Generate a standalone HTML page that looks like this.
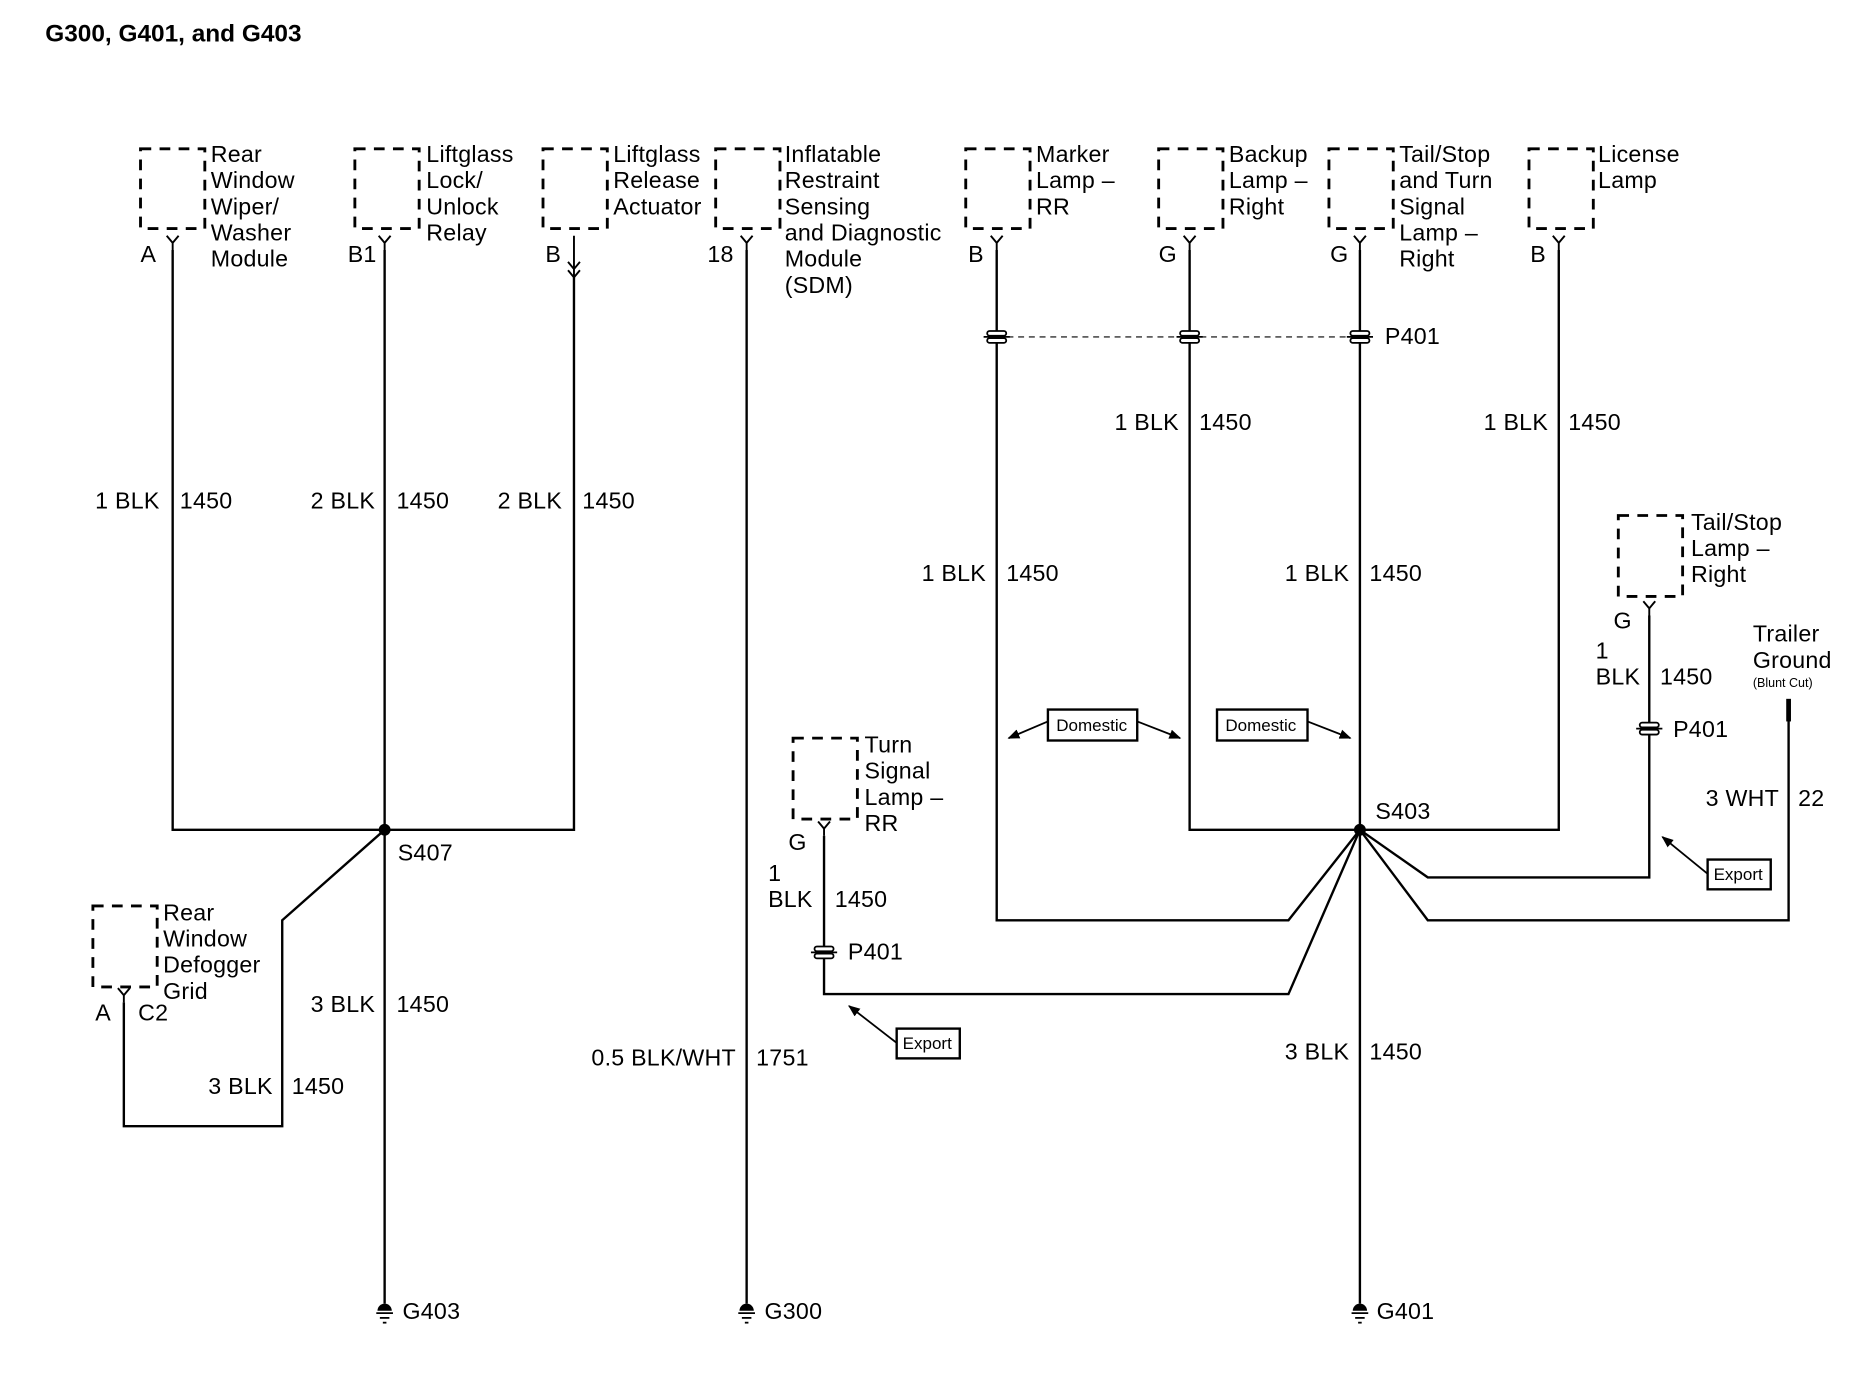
<!DOCTYPE html>
<html><head><meta charset="utf-8"><style>
html,body{margin:0;padding:0;background:#fff}
svg{display:block}
text{font-family:"Liberation Sans",Arial,sans-serif;font-size:19.5px;letter-spacing:0.2px;fill:#000}
.t{font-weight:bold;font-size:20.5px;letter-spacing:0}
.s{font-size:14.3px;letter-spacing:0}
.xs{font-size:10.5px;letter-spacing:0}
</style></head><body>
<svg width="1866" height="1376" viewBox="0 0 1567 1155.8" preserveAspectRatio="none" xmlns="http://www.w3.org/2000/svg">
<defs>
<g id="pin"><path d="M-5,0 L0,6 L5,0 M0,6 V12" stroke="#000" stroke-width="1.6" fill="none"/></g>
<g id="p401"><rect x="-8" y="-5" width="16" height="4" rx="2" fill="#fff" stroke="#000" stroke-width="1.5"/><rect x="-8" y="1" width="16" height="4" rx="2" fill="#fff" stroke="#000" stroke-width="1.5"/><line x1="-11" y1="0" x2="11" y2="0" stroke="#000" stroke-width="1.5"/></g>
<g id="gnd"><path d="M-6,0 A6,6 0 0 1 6,0 Z" fill="#000"/><line x1="-7" y1="2" x2="7" y2="2" stroke="#000" stroke-width="1.5"/><line x1="-4" y1="6" x2="4" y2="6" stroke="#000" stroke-width="1.5"/><line x1="-1.5" y1="10" x2="1.5" y2="10" stroke="#000" stroke-width="1.5"/></g>
<marker id="ar" markerWidth="10" markerHeight="10" refX="9" refY="5" orient="auto" markerUnits="userSpaceOnUse"><path d="M0,1 L10,5 L0,9 Z" fill="#000"/></marker>
</defs>
<text x="38" y="35" class="t">G300, G401, and G403</text>

<g fill="none" stroke="#000" stroke-width="2.4" stroke-dasharray="9,7">
<rect x="118" y="125" width="54" height="67"/>
<rect x="298" y="125" width="54" height="67"/>
<rect x="456" y="125" width="54" height="67"/>
<rect x="601" y="125" width="54" height="67"/>
<rect x="811" y="125" width="54" height="67"/>
<rect x="973" y="125" width="54" height="67"/>
<rect x="1116" y="125" width="54" height="67"/>
<rect x="1284" y="125" width="54" height="67"/>
<rect x="78" y="761" width="54" height="68"/>
<rect x="666" y="620" width="54" height="68"/>
<rect x="1359" y="433" width="54" height="68"/>
</g>

<g>
<text x="177" y="136">Rear</text><text x="177" y="158">Window</text><text x="177" y="180">Wiper/</text><text x="177" y="202">Washer</text><text x="177" y="224">Module</text>
<text x="358" y="136">Liftglass</text><text x="358" y="158">Lock/</text><text x="358" y="180">Unlock</text><text x="358" y="202">Relay</text>
<text x="515" y="136">Liftglass</text><text x="515" y="158">Release</text><text x="515" y="180">Actuator</text>
<text x="659" y="136">Inflatable</text><text x="659" y="158">Restraint</text><text x="659" y="180">Sensing</text><text x="659" y="202">and Diagnostic</text><text x="659" y="224">Module</text><text x="659" y="246">(SDM)</text>
<text x="870" y="136">Marker</text><text x="870" y="158">Lamp –</text><text x="870" y="180">RR</text>
<text x="1032" y="136">Backup</text><text x="1032" y="158">Lamp –</text><text x="1032" y="180">Right</text>
<text x="1175" y="136">Tail/Stop</text><text x="1175" y="158">and Turn</text><text x="1175" y="180">Signal</text><text x="1175" y="202">Lamp –</text><text x="1175" y="224">Right</text>
<text x="1342" y="136">License</text><text x="1342" y="158">Lamp</text>
<text x="137" y="773">Rear</text><text x="137" y="795">Window</text><text x="137" y="817">Defogger</text><text x="137" y="839">Grid</text>
<text x="726" y="632">Turn</text><text x="726" y="654">Signal</text><text x="726" y="676">Lamp –</text><text x="726" y="698">RR</text>
<text x="1420" y="445">Tail/Stop</text><text x="1420" y="467">Lamp –</text><text x="1420" y="489">Right</text>
<text x="1472" y="539">Trailer</text><text x="1472" y="561">Ground</text><text x="1472" y="577" class="xs">(Blunt Cut)</text>
</g>

<use href="#pin" x="145" y="198"/><use href="#pin" x="323" y="198"/><use href="#pin" x="627" y="198"/>
<use href="#pin" x="837" y="198"/><use href="#pin" x="999" y="198"/><use href="#pin" x="1142" y="198"/><use href="#pin" x="1309" y="198"/>
<use href="#pin" x="104" y="830"/><use href="#pin" x="692" y="690"/><use href="#pin" x="1385" y="505"/>
<path d="M477,220 L482,226 L487,220 M477,227 L482,233 L487,227 M482,198 V233" stroke="#000" stroke-width="1.6" fill="none"/>
<g>
<text x="118" y="220">A</text><text x="292" y="220">B1</text><text x="458" y="220">B</text><text x="594" y="220">18</text>
<text x="813" y="220">B</text><text x="973" y="220">G</text><text x="1117" y="220">G</text><text x="1285" y="220">B</text>
<text x="80" y="857">A</text><text x="116" y="857">C2</text><text x="662" y="714">G</text><text x="1355" y="528">G</text>
</g>

<g fill="none" stroke="#000" stroke-width="2">
<path d="M145,210 V697 H482 V233"/>
<path d="M323,210 V1095"/>
<path d="M627,210 V1095"/>
<path d="M837,210 V773 H1082 L1142,697"/>
<path d="M999,210 V697 H1309 V210"/>
<path d="M1142,210 V1095"/>
<path d="M104,842 V946 H237 V773 L323,697"/>
<path d="M692,702 V835 H1082 L1142,697"/>
<path d="M1385,517 V737 H1199 L1142,697"/>
<path d="M1502,605 V773 H1199 L1142,697"/>
<line x1="837" y1="283" x2="1142" y2="283" stroke-width="1" stroke-dasharray="5,4"/>
</g>
<line x1="1502" y1="587" x2="1502" y2="606" stroke="#000" stroke-width="4"/>
<circle cx="323" cy="697" r="5"/><circle cx="1142" cy="697" r="5"/>
<use href="#p401" x="837" y="283"/><use href="#p401" x="999" y="283"/><use href="#p401" x="1142" y="283"/>
<use href="#p401" x="692" y="800"/><use href="#p401" x="1385" y="612"/>
<text x="1163" y="289">P401</text><text x="712" y="806">P401</text><text x="1405" y="619">P401</text>
<text x="334" y="723">S407</text><text x="1155" y="688">S403</text>

<g text-anchor="end">
<text x="134" y="427">1 BLK</text><text x="315" y="427">2 BLK</text><text x="472" y="427">2 BLK</text>
<text x="990" y="361">1 BLK</text><text x="1300" y="361">1 BLK</text>
<text x="828" y="488">1 BLK</text><text x="1133" y="488">1 BLK</text>
<text x="315" y="850">3 BLK</text><text x="229" y="919">3 BLK</text>
<text x="618" y="895">0.5 BLK/WHT</text><text x="1133" y="890">3 BLK</text>
<text x="1494" y="677">3 WHT</text>
</g>
<g>
<text x="151" y="427">1450</text><text x="333" y="427">1450</text><text x="489" y="427">1450</text>
<text x="1007" y="361">1450</text><text x="1317" y="361">1450</text>
<text x="845" y="488">1450</text><text x="1150" y="488">1450</text>
<text x="333" y="850">1450</text><text x="245" y="919">1450</text>
<text x="635" y="895">1751</text><text x="1150" y="890">1450</text>
<text x="1510" y="677">22</text>
<text x="645" y="740">1</text><text x="645" y="762">BLK</text><text x="701" y="762">1450</text>
<text x="1340" y="553">1</text><text x="1340" y="575">BLK</text><text x="1394" y="575">1450</text>
</g>
<g fill="#fff" stroke="#000" stroke-width="2">
<rect x="880" y="596" width="75" height="26"/>
<rect x="1022" y="596" width="76" height="26"/>
<rect x="753" y="864" width="53" height="25"/>
<rect x="1434" y="722" width="53" height="25"/>
</g>
<g stroke="#000" stroke-width="1.5" fill="none" marker-end="url(#ar)">
<line x1="880" y1="606" x2="847" y2="620"/>
<line x1="955" y1="606" x2="991" y2="620"/>
<line x1="1098" y1="606" x2="1134" y2="620"/>
<line x1="753" y1="876" x2="713" y2="845"/>
<line x1="1434" y1="734" x2="1396" y2="703"/>
</g>
<text x="887" y="614" class="s">Domestic</text><text x="1029" y="614" class="s">Domestic</text>
<text x="758" y="881" class="s">Export</text><text x="1439" y="739" class="s">Export</text>
<use href="#gnd" x="323" y="1101"/><use href="#gnd" x="627" y="1101"/><use href="#gnd" x="1142" y="1101"/>
<text x="338" y="1108">G403</text><text x="642" y="1108">G300</text><text x="1156" y="1108">G401</text>
</svg>
</body></html>
